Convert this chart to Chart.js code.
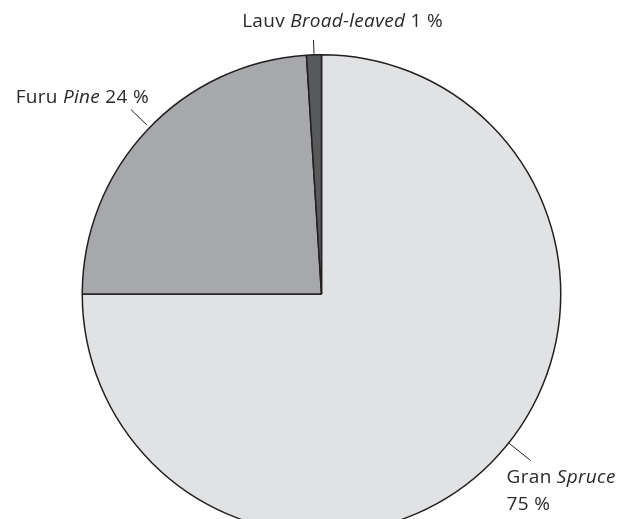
<!DOCTYPE html>
<html>
<head>
<meta charset="utf-8">
<script src="https://cdn.jsdelivr.net/npm/chart.js@4/dist/chart.umd.min.js"></script>
<style>
  html, body { margin: 0; padding: 0; background: #fff; overflow: hidden; }
  #wrap { width: 620px; height: 519px; overflow: hidden; }
</style>
</head>
<body>
<div id="wrap"><canvas id="c" width="620" height="540"></canvas></div>
<script>
const species = ['Gran', 'Furu', 'Lauv'];
const speciesEn = ['Spruce', 'Pine', 'Broad-leaved'];
const shares = [75, 24, 1];
const sliceColors = ['#e1e2e4', '#a7a8ab', '#58595b'];

// leader lines: where they leave each slice (fraction), gap from the rim, length
const leaderPos = [0.476, 0.51, 0.5];
const leaderGap = [0, 4, 1];
const leaderLen = [28, 22, 14];

const FONT = '"Open Sans", "Noto Sans", sans-serif';
const INK = '#231f20';

const labelPlugin = {
    id: 'leaderLabels',
    afterDatasetsDraw(chart) {
        const ctx = chart.ctx;
        const arcs = chart.getDatasetMeta(0).data;
        const ends = arcs.map((arc, i) => {
            const a = arc.startAngle + (arc.endAngle - arc.startAngle) * leaderPos[i];
            const r0 = arc.outerRadius + leaderGap[i];
            const r1 = r0 + leaderLen[i];
            const p0 = { x: arc.x + Math.cos(a) * r0, y: arc.y + Math.sin(a) * r0 };
            const p1 = { x: arc.x + Math.cos(a) * r1, y: arc.y + Math.sin(a) * r1 };
            ctx.save();
            ctx.strokeStyle = INK;
            ctx.lineWidth = 1;
            ctx.beginPath();
            ctx.moveTo(p0.x, p0.y);
            ctx.lineTo(p1.x, p1.y);
            ctx.stroke();
            ctx.restore();
            return p1;
        });

        const parts = (i) => [
            { t: species[i] + ' ', it: false },
            { t: speciesEn[i], it: true },
            { t: ' ' + shares[i] + ' %', it: false }
        ];
        const drawRun = (runs, x, y, align) => {
            ctx.save();
            ctx.fillStyle = '#2b2829';
            ctx.textBaseline = 'alphabetic';
            ctx.textAlign = 'left';
            ctx.letterSpacing = '0.3px';
            const fontOf = (r) => (r.it ? 'italic ' : '') + '19px ' + FONT;
            let w = 0;
            runs.forEach(r => { ctx.font = fontOf(r); w += ctx.measureText(r.t).width; });
            let cx = align === 'right' ? x - w : align === 'center' ? x - w / 2 : x;
            runs.forEach(r => { ctx.font = fontOf(r); ctx.fillText(r.t, cx, y); cx += ctx.measureText(r.t).width; });
            ctx.restore();
        };

        // Lauv (top)
        drawRun(parts(2), ends[2].x + 29, ends[2].y - 13, 'center');
        // Furu (left)
        drawRun(parts(1), ends[1].x + 18, ends[1].y - 7, 'right');
        // Gran (bottom right), two lines
        drawRun([{ t: species[0] + ' ', it: false }, { t: speciesEn[0], it: true }], ends[0].x - 24, ends[0].y + 23, 'left');
        drawRun([{ t: shares[0] + ' %', it: false }], ends[0].x - 24, ends[0].y + 50, 'left');
    }
};

new Chart(document.getElementById('c'), {
    type: 'pie',
    data: {
        labels: species,
        datasets: [{
            data: shares,
            backgroundColor: sliceColors,
            borderColor: INK,
            borderWidth: 1.5
        }]
    },
    options: {
        responsive: false,
        animation: false,
        devicePixelRatio: 1,
        layout: { padding: { top: 54, bottom: 6, left: 81, right: 58 } },
        plugins: {
            legend: { display: false },
            tooltip: { enabled: false }
        }
    },
    plugins: [labelPlugin]
});
</script>
</body>
</html>
